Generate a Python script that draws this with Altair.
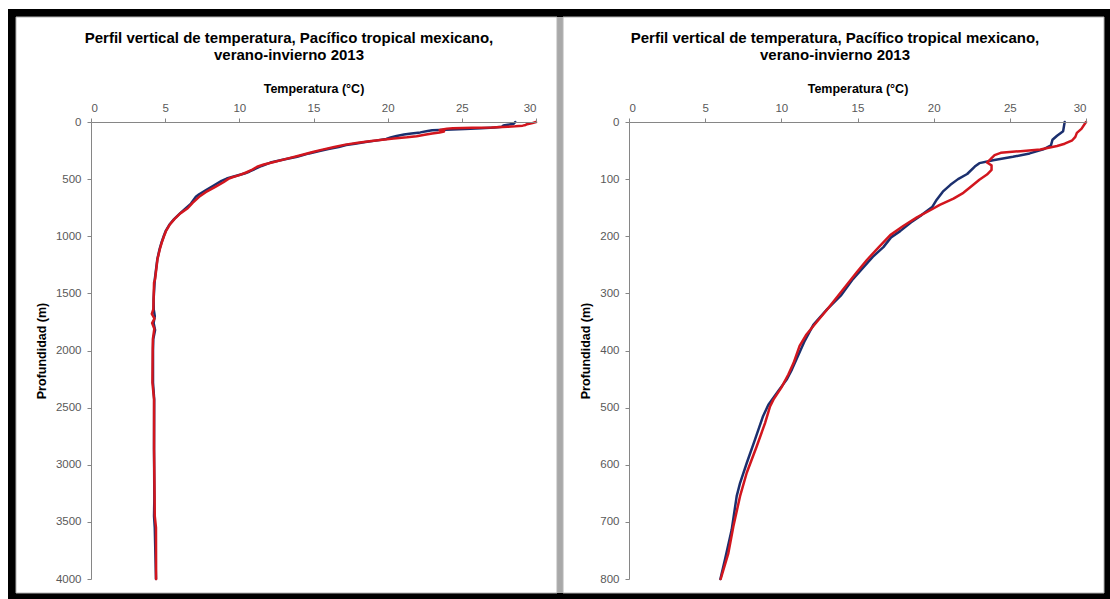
import altair as alt
import pandas as pd

# Temperature profiles (depth in m, temperature in °C), two cruises
depth_invierno = [0, 16, 24, 31, 41, 48, 55, 61, 67, 72, 78, 91, 100, 110, 122, 136, 149, 163,
                  176, 191, 202, 219, 236, 254, 275, 304, 328, 355, 385, 433, 451, 471, 495,
                  515, 556, 597, 632, 655, 714, 766, 800, 850, 900, 950, 1000, 1056, 1114, 1202,
                  1377, 1552, 1640, 1700, 1760, 1820, 1900, 2000, 2281, 2427, 2865, 3300, 3450,
                  3550, 4000]
temp_invierno = [28.6, 28.5, 28.1, 27.8, 27.7, 27.2, 26.3, 25.2, 23.9, 23.0, 22.7, 22.2, 21.6,
                 21.1, 20.6, 20.2, 19.9, 19.2, 18.5, 17.8, 17.2, 16.7, 16.0, 15.4, 14.7, 13.9,
                 13.0, 12.1, 11.5, 10.7, 10.35, 9.8, 9.15, 8.8, 8.27, 7.73, 7.29, 7.07, 6.74,
                 6.3, 6.0, 5.6, 5.28, 5.05, 4.9, 4.75, 4.62, 4.47, 4.3, 4.22, 4.23, 4.3, 4.22,
                 4.32, 4.2, 4.18, 4.18, 4.26, 4.25, 4.27, 4.25, 4.3, 4.38]

depth_verano = [0, 12, 19, 26, 32, 38, 42, 48, 51, 54, 58, 66, 71, 76, 84, 92, 101, 112, 124,
                134, 145, 154, 167, 182, 198, 219, 242, 263, 295, 325, 354, 372, 392, 422, 442,
                465, 486, 498, 527, 568, 614, 655, 708, 755, 800, 850, 900, 950, 1000, 1056,
                1114, 1202, 1377, 1406, 1552, 1640, 1680, 1720, 1760, 1810, 1900, 1990, 2281,
                2427, 2865, 3449, 3550, 4000]
temp_verano = [30.0, 29.7, 29.4, 29.3, 29.1, 28.6, 28.1, 27.0, 25.7, 24.4, 24.0, 23.7, 23.5,
               23.8, 23.8, 23.5, 23.0, 22.5, 21.95, 21.3, 20.4, 19.8, 18.9, 18.0, 17.15, 16.4,
               15.6, 14.95, 14.0, 13.1, 12.2, 11.65, 11.2, 10.8, 10.46, 10.0, 9.48, 9.26, 8.93,
               8.38, 7.73, 7.29, 6.85, 6.52, 6.02, 5.62, 5.3, 5.07, 4.92, 4.77, 4.64, 4.48,
               4.32, 4.25, 4.22, 4.2, 4.1, 4.28, 4.12, 4.27, 4.17, 4.16, 4.14, 4.25, 4.25, 4.3,
               4.38, 4.39]

series_colors = {"Invierno": "#1B2F6E", "Verano": "#D2161E"}

title_lines = ["Perfil vertical de temperatura, Pacífico tropical mexicano,",
               "verano-invierno 2013"]
x_title = "Temperatura (°C)"
y_title = "Profundidad (m)"
x_ticks = [0, 5, 10, 15, 20, 25, 30]
y_ticks_full = [0, 500, 1000, 1500, 2000, 2500, 3000, 3500, 4000]
y_ticks_upper = [0, 100, 200, 300, 400, 500, 600, 700, 800]

FONT = "Liberation Sans"

invierno = pd.DataFrame({"profundidad": depth_invierno, "temperatura": temp_invierno})
verano = pd.DataFrame({"profundidad": depth_verano, "temperatura": temp_verano})
one = pd.DataFrame({"k": [0]})

# plot-area geometry, in page pixels
PLOT_TOP = 122
PLOT_H = 457
LEFT_X, LEFT_W = 91, 445
RIGHT_X, RIGHT_W = 629, 457
GAP = RIGHT_X - (LEFT_X + LEFT_W)


def box(ox, x1, y1, x2, y2, fill, stroke=None, sw=0):
    """Rectangle given in page pixels, placed in a panel whose plot starts at page x = ox."""
    kw = dict(fill=fill, strokeWidth=sw)
    if stroke:
        kw["stroke"] = stroke
    return alt.Chart(one).mark_rect(**kw).encode(
        x=alt.value(x1 - ox), x2=alt.value(x2 - ox),
        y=alt.value(y1 - PLOT_TOP), y2=alt.value(y2 - PLOT_TOP),
    )


def title_marks(ox, cx):
    marks = []
    for i, line in enumerate(title_lines):
        marks.append(
            alt.Chart(one).mark_text(
                text=line, font=FONT, fontSize=15, fontWeight="bold", color="black",
                align="center", baseline="middle",
            ).encode(x=alt.value(cx - ox), y=alt.value(38 + 17 * i - PLOT_TOP))
        )
    return marks


def profile(ymax, yticks, width, ox, title_cx, background=()):
    x_enc = alt.X(
        "temperatura:Q",
        scale=alt.Scale(domain=[0, 30], nice=False, zero=False),
        axis=alt.Axis(
            orient="top", values=x_ticks, title=x_title, grid=False, zindex=1, format="d",
            labelFont=FONT, labelFontSize=11.5, labelColor="#595959", labelPadding=5,
            tickColor="#868686", domainColor="#868686", tickSize=4, tickWidth=1,
            titleFont=FONT, titleFontSize=12.5, titleFontWeight="bold", titleColor="black",
            titlePadding=7,
        ),
    )
    y_enc = alt.Y(
        "profundidad:Q",
        scale=alt.Scale(domain=[0, ymax], reverse=True, nice=False, zero=False),
        axis=alt.Axis(
            orient="left", values=yticks, title=y_title, grid=False, zindex=1, format="d",
            labelFont=FONT, labelFontSize=11.5, labelColor="#595959", labelPadding=6,
            tickColor="#868686", domainColor="#868686", tickSize=4, tickWidth=1,
            titleFont=FONT, titleFontSize=12.5, titleFontWeight="bold", titleColor="black",
            titlePadding=7,
        ),
    )
    layers = list(background)
    for name, df in (("Invierno", invierno), ("Verano", verano)):
        sub = df[df["profundidad"] <= ymax]
        layers.append(
            alt.Chart(sub).mark_line(strokeWidth=2.5, strokeJoin="round", strokeCap="round",
                                     color=series_colors[name])
            .encode(x=x_enc, y=y_enc, order="profundidad:Q")
        )
    layers += title_marks(ox, title_cx)
    return alt.layer(*layers).properties(width=width, height=PLOT_H)


# page frame: black border, two white chart areas split by a grey bar
frame = [
    box(LEFT_X, 0, 0, 1110, 599, "white"),
    box(LEFT_X, 8, 9, 1110, 599, "black"),
    box(LEFT_X, 557, 17, 563, 593, "#a9a9a9"),
    box(LEFT_X, 16, 17, 557, 593, "white", "#b4b4b4", 1),
    box(LEFT_X, 563, 17, 1104, 593, "white", "#b4b4b4", 1),
]

left = profile(4000, y_ticks_full, LEFT_W, LEFT_X, 289, background=frame)
right = profile(800, y_ticks_upper, RIGHT_W, RIGHT_X, 835)

chart = alt.hconcat(left, right, spacing=GAP, bounds="flush").properties(
    padding=0, background="white"
).configure_view(strokeWidth=0)

chart.save("out.html", embed_options={"renderer": "svg", "actions": False})
